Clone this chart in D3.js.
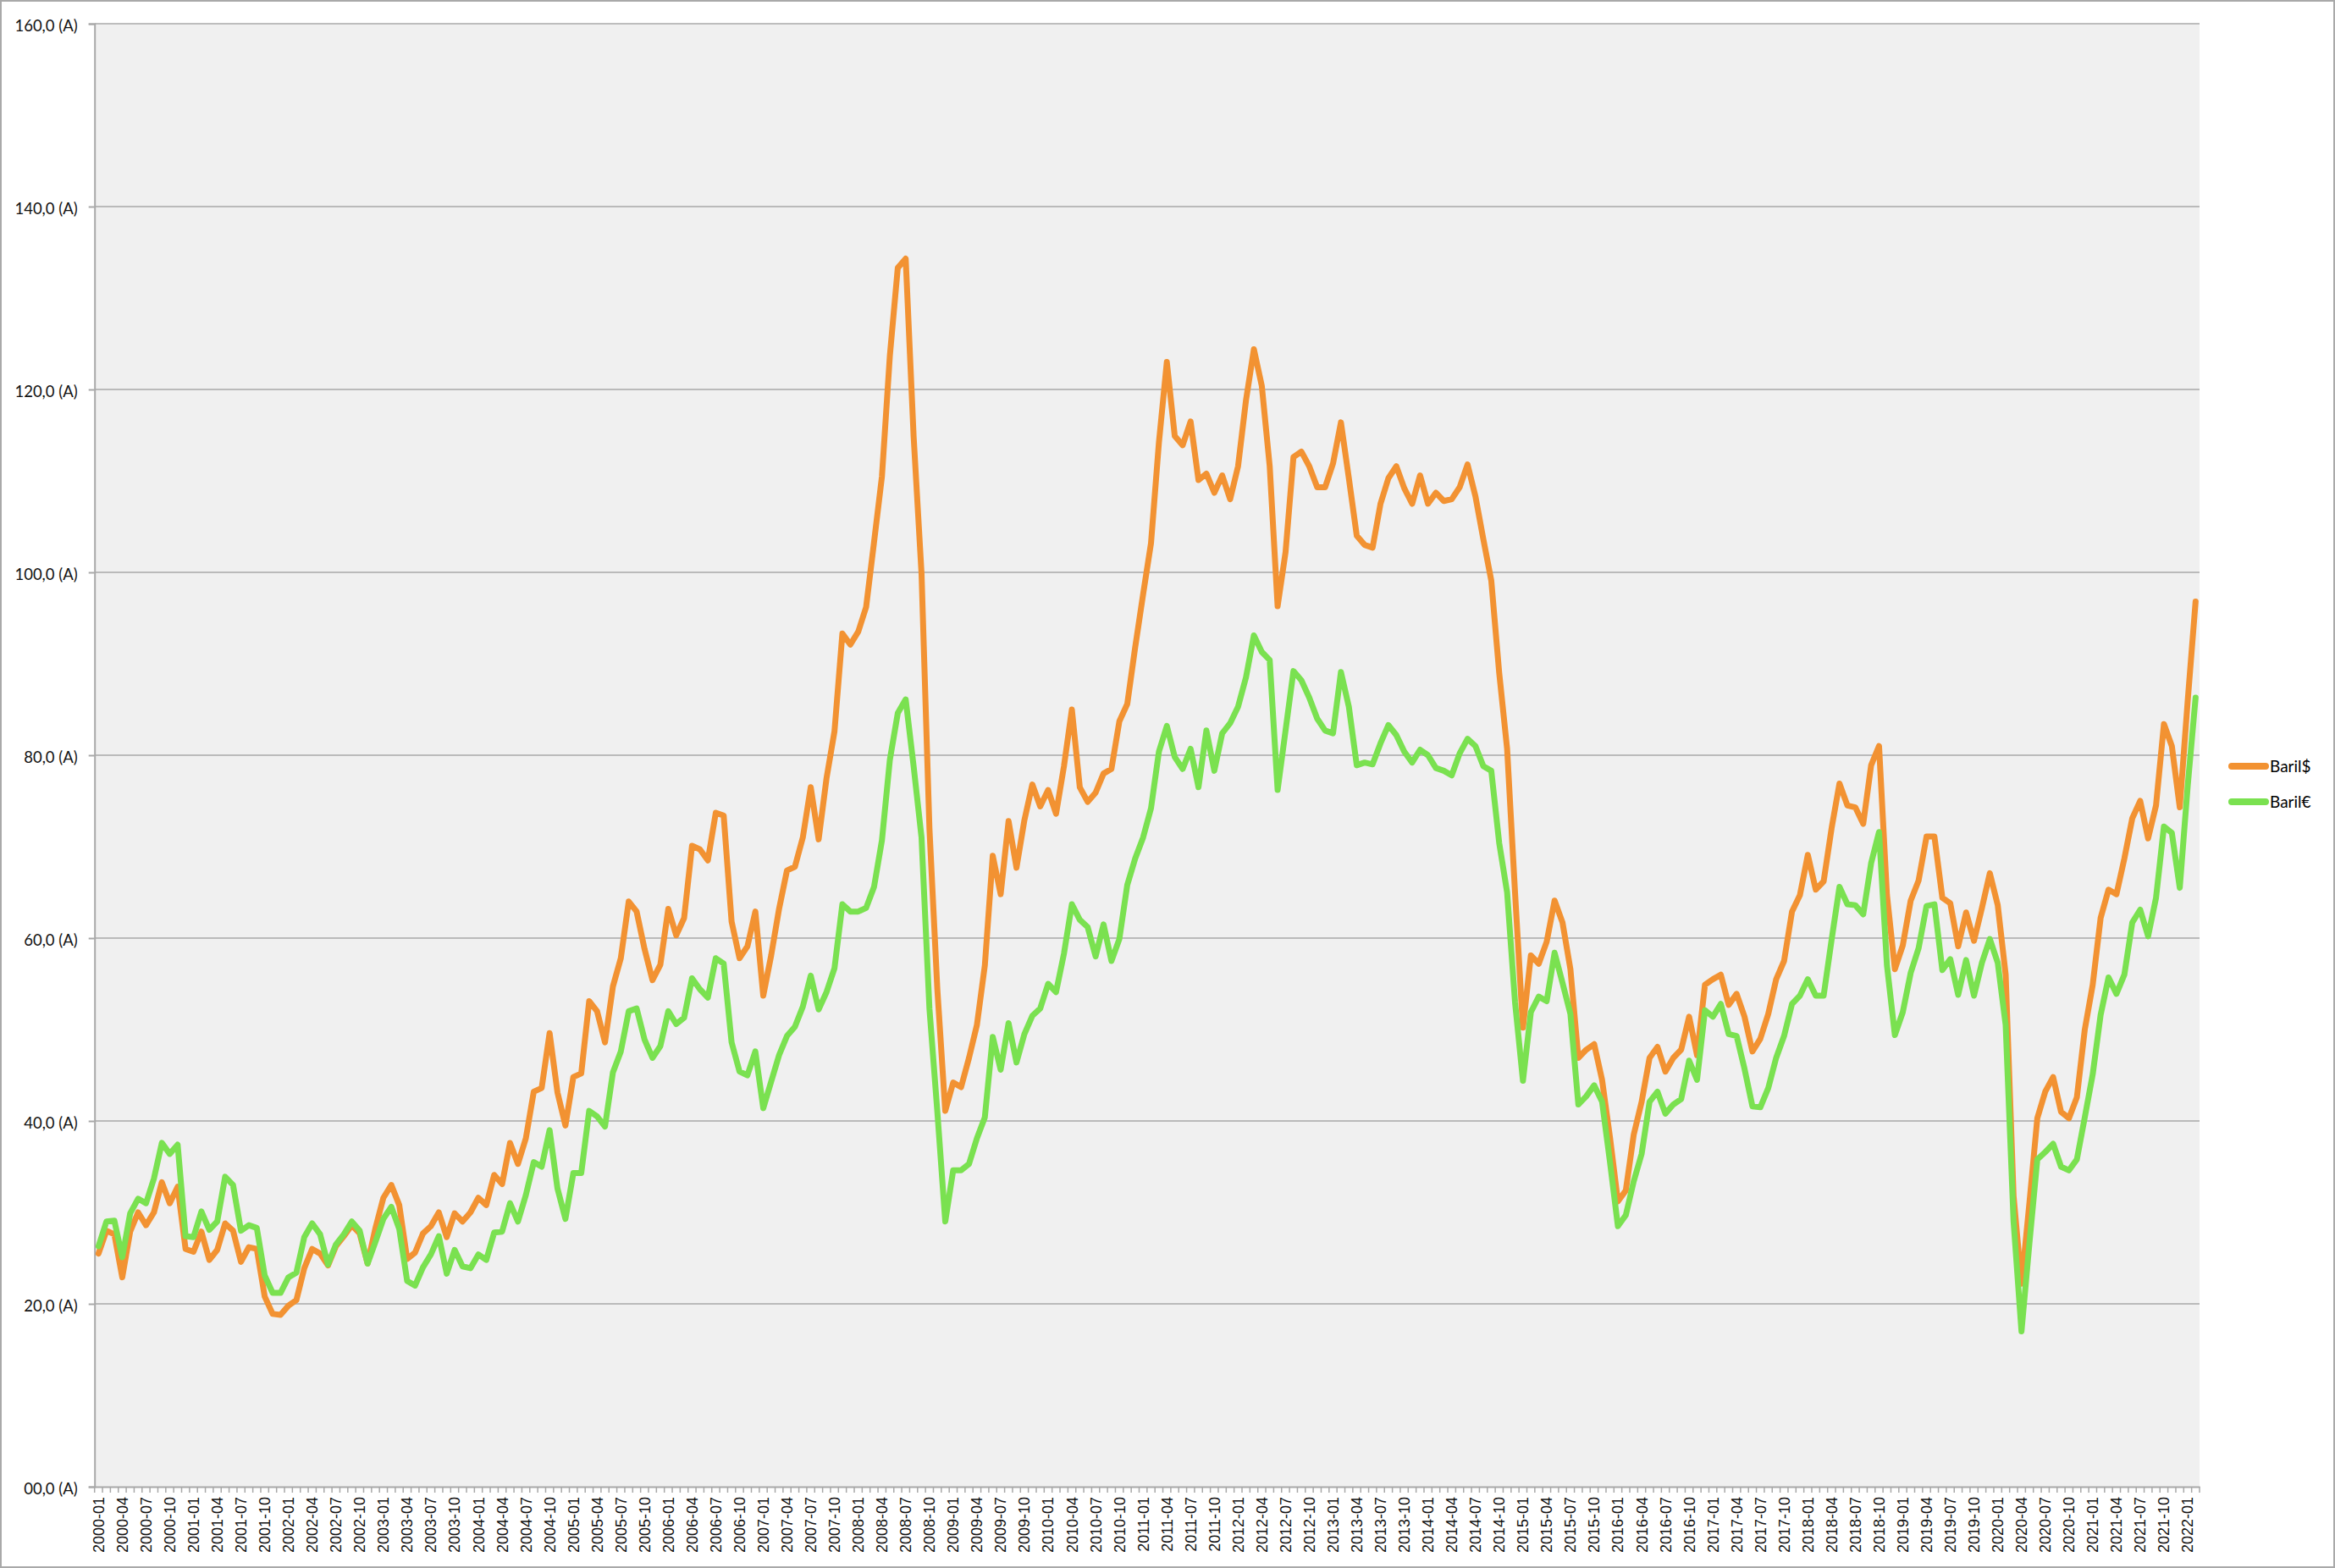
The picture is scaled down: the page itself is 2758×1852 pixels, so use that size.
<!DOCTYPE html>
<html>
<head>
<meta charset="utf-8">
<script src="https://cdn.jsdelivr.net/npm/d3@7"></script>
<style>
  html, body { margin: 0; padding: 0; background: #fff; }
  svg { display: block; }
</style>
</head>
<body>
<svg id="chart"></svg>
<script>
// monthly categories, 2000-01 .. 2022-02
var firstYear = 2000;
var monthCount = 266;
var months = [];
for (var k = 0; k < monthCount; k++) {
  var yy = firstYear + Math.floor(k / 12);
  var mm = (k % 12) + 1;
  months.push(yy + "-" + (mm < 10 ? "0" + mm : mm));
}

// Baril$ (orange)
var barilUsd = [
  25.5, 28.0, 27.6, 22.9, 27.9, 30.0, 28.6, 30.0, 33.3, 31.0, 32.8, 26.0,
  25.7, 27.9, 24.8, 25.9, 28.8, 28.0, 24.6, 26.2, 26.0, 20.8, 18.9, 18.8,
  19.8, 20.4, 23.9, 26.0, 25.5, 24.2, 26.3, 27.4, 28.6, 27.7, 24.4, 28.3,
  31.6, 33.0, 30.8, 24.9, 25.6, 27.7, 28.5, 30.0, 27.3, 29.9, 29.0, 30.0,
  31.6, 30.8, 34.1, 33.1, 37.6, 35.3, 38.1, 43.2, 43.6, 49.6, 43.1, 39.5,
  44.8, 45.2, 53.1, 52.0, 48.6, 54.7, 57.8, 64.0, 62.9, 58.8, 55.4, 57.1,
  63.2, 60.3, 62.2, 70.1, 69.7, 68.5, 73.7, 73.4, 61.8, 57.8, 59.1, 62.9,
  53.7, 58.1, 63.2, 67.4, 67.8, 71.0, 76.5, 70.8, 77.5, 82.6, 93.3, 92.1,
  93.5, 96.2, 103.3, 110.5, 123.7, 133.3, 134.3, 114.9, 99.9, 72.0, 54.4, 41.1,
  44.2, 43.7, 46.9, 50.5, 57.0, 69.0, 64.8, 72.8, 67.7, 72.9, 76.8, 74.4,
  76.2, 73.6, 78.8, 85.0, 76.5, 74.9, 75.9, 78.0, 78.5, 83.7, 85.6, 91.8,
  97.6, 103.2, 114.2, 123.0, 114.9, 113.9, 116.5, 110.1, 110.8, 108.7, 110.6, 108.0,
  111.6, 118.8, 124.4, 120.4, 111.6, 96.3, 102.2, 112.6, 113.2, 111.6, 109.3, 109.3,
  111.9, 116.4, 110.3, 104.0, 103.0, 102.7, 107.5, 110.3, 111.6, 109.2, 107.5, 110.6,
  107.5, 108.7, 107.8, 108.0, 109.3, 111.8, 108.3, 103.6, 99.1, 89.0, 80.7, 65.0,
  50.2, 58.1, 57.2, 59.6, 64.1, 61.7, 56.6, 46.9, 47.8, 48.4, 44.5, 38.2,
  31.2, 32.4, 38.5, 42.1, 46.9, 48.1, 45.4, 46.9, 47.8, 51.4, 47.2, 54.9,
  55.5, 56.0, 52.7, 53.9, 51.4, 47.6, 49.0, 51.7, 55.5, 57.5, 62.9, 64.7,
  69.1, 65.3, 66.2, 72.0, 76.9, 74.5, 74.3, 72.5, 78.9, 81.0, 64.7, 56.6,
  59.2, 64.1, 66.3, 71.1, 71.1, 64.4, 63.8, 59.1, 62.8, 59.7, 63.3, 67.1,
  63.6, 56.0, 31.8, 22.2, 31.0, 40.3, 43.2, 44.8, 41.0, 40.3, 42.6, 50.0,
  54.9, 62.2, 65.3, 64.8, 68.7, 73.1, 75.0, 70.9, 74.5, 83.4, 81.0, 74.3,
  85.9, 96.8
];

// Baril€ (green)
var barilEur = [
  26.3, 29.0, 29.1, 25.1, 29.9, 31.5, 31.0, 33.7, 37.6, 36.4, 37.4, 27.4,
  27.3, 30.1, 28.1, 29.0, 33.9, 33.0, 28.0, 28.6, 28.3, 23.1, 21.2, 21.2,
  22.9, 23.4, 27.3, 28.8, 27.6, 24.3, 26.5, 27.6, 29.0, 28.0, 24.4, 26.8,
  29.3, 30.6, 28.2, 22.5, 22.0, 24.0, 25.4, 27.4, 23.3, 25.9, 24.1, 23.9,
  25.4, 24.8, 27.8, 27.9, 31.0, 29.0, 31.9, 35.5, 35.0, 39.0, 32.6, 29.3,
  34.3, 34.3, 41.1, 40.5, 39.4, 45.3, 47.6, 52.0, 52.3, 48.9, 46.9, 48.2,
  52.0, 50.6, 51.3, 55.6, 54.4, 53.5, 57.8, 57.2, 48.6, 45.4, 45.0, 47.6,
  41.4, 44.3, 47.2, 49.3, 50.3, 52.5, 55.9, 52.2, 54.1, 56.7, 63.7, 62.9,
  62.9, 63.3, 65.6, 70.7, 79.5, 84.6, 86.1, 78.8, 71.0, 52.3, 41.0, 29.0,
  34.6, 34.6, 35.3, 38.1, 40.4, 49.2, 45.6, 50.7, 46.4, 49.5, 51.5, 52.3,
  55.0, 54.1, 58.3, 63.7, 62.0, 61.2, 58.0, 61.5, 57.5, 59.9, 65.8, 68.7,
  71.0, 74.2, 80.4, 83.2, 79.8, 78.5, 80.7, 76.5, 82.7, 78.3, 82.4, 83.5,
  85.3, 88.5, 93.1, 91.3, 90.4, 76.2, 82.7, 89.2, 88.2, 86.3, 84.0, 82.7,
  82.4, 89.1, 85.3, 78.9, 79.2, 79.0, 81.3, 83.3, 82.2, 80.4, 79.2, 80.6,
  80.0, 78.6, 78.3, 77.8, 80.2, 81.8, 81.0, 78.8, 78.3, 70.4, 65.0, 53.0,
  44.4, 51.9, 53.6, 53.1, 58.4, 55.1, 51.7, 41.8, 42.7, 43.9, 42.1, 35.5,
  28.5, 29.7, 33.4, 36.4, 42.1, 43.2, 40.8, 41.8, 42.4, 46.6, 44.5, 52.1,
  51.4, 52.8, 49.5, 49.3, 45.7, 41.6, 41.5, 43.6, 46.9, 49.3, 52.8, 53.7,
  55.5, 53.7, 53.7, 59.8, 65.6, 63.7, 63.6, 62.6, 68.2, 71.6, 57.0, 49.4,
  51.9, 56.2, 58.9, 63.5, 63.7, 56.5, 57.7, 53.8, 57.6, 53.7, 57.3, 59.9,
  57.3, 50.5, 29.0, 17.0, 26.6, 35.8, 36.6, 37.5, 35.0, 34.6, 35.8, 40.4,
  45.1, 51.6, 55.7, 53.9, 56.0, 61.7, 63.1, 60.2, 64.4, 72.2, 71.5, 65.5,
  76.6, 86.3
];

var seriesNames = ["Baril$", "Baril\u20ac"];
var seriesColors = ["#f29232", "#7ae150"];
var yTicks = [0, 20, 40, 60, 80, 100, 120, 140, 160];

var W = 2758, H = 1852;
var plot = { left: 111.7, right: 2598, top: 28, bottom: 1756 };

var svg = d3.select("#chart").attr("width", W).attr("height", H);

// outer frame
svg.append("rect")
  .attr("x", 1).attr("y", 1)
  .attr("width", W - 2).attr("height", H - 2)
  .attr("fill", "#fff")
  .attr("stroke", "#a9a9a9")
  .attr("stroke-width", 2);

var x = d3.scaleBand()
  .domain(months)
  .range([plot.left, plot.right])
  .padding(0);
var bw = x.bandwidth();

var y = d3.scaleLinear()
  .domain([0, 160])
  .range([plot.bottom, plot.top]);

svg.append("rect")
  .attr("x", plot.left).attr("y", plot.top)
  .attr("width", plot.right - plot.left)
  .attr("height", plot.bottom - plot.top)
  .attr("fill", "#f0f0f0");

// gridlines
svg.append("g")
  .selectAll("line")
  .data(yTicks.filter(function (d) { return d > 0; }))
  .join("line")
  .attr("x1", plot.left).attr("x2", plot.right)
  .attr("y1", function (d) { return y(d); })
  .attr("y2", function (d) { return y(d); })
  .attr("stroke", "#a8a8a8")
  .attr("stroke-width", 1.6);

function yFmt(v) {
  var s = String(Math.round(v));
  if (s.length < 2) s = "0" + s;
  return s + ",0 (A)";
}

var yAxis = svg.append("g")
  .attr("transform", "translate(" + plot.left + ",0)")
  .call(d3.axisLeft(y).tickValues(yTicks).tickSize(7).tickPadding(13).tickFormat(yFmt));
yAxis.select(".domain").attr("stroke", "#a8a8a8").attr("stroke-width", 2);
yAxis.selectAll(".tick line").attr("stroke", "#a8a8a8").attr("stroke-width", 2);
yAxis.selectAll(".tick text")
  .attr("fill", "#111")
  .style("font-family", "Lato, 'Open Sans', sans-serif")
  .style("font-size", "18.5px")
  .attr("dy", "0.45em");

// x axis: labels every 3rd month, small ticks at category boundaries
var labelMonths = months.filter(function (d, i) { return i % 3 === 0; });
var xAxis = svg.append("g")
  .attr("transform", "translate(0," + plot.bottom + ")")
  .call(d3.axisBottom(x).tickValues(labelMonths).tickSize(0));
xAxis.select(".domain").attr("stroke", "#a8a8a8").attr("stroke-width", 2);
xAxis.selectAll(".tick text")
  .attr("transform", "rotate(-90)")
  .attr("text-anchor", "end")
  .attr("x", -12)
  .attr("y", 0)
  .attr("dy", "0.36em")
  .attr("fill", "#111")
  .style("font-family", "'Liberation Sans', Arial, sans-serif")
  .style("font-size", "18px");

svg.append("g")
  .selectAll("line")
  .data(months.concat(["end"]))
  .join("line")
  .attr("x1", function (d) { return d === "end" ? plot.right : x(d); })
  .attr("x2", function (d) { return d === "end" ? plot.right : x(d); })
  .attr("y1", plot.bottom)
  .attr("y2", plot.bottom + 7)
  .attr("stroke", "#a8a8a8")
  .attr("stroke-width", 1.5);

// series lines
var series = [barilUsd, barilEur];
var line = d3.line()
  .x(function (d, i) { return x(months[i]) + bw / 2; })
  .y(function (d) { return y(d); });

svg.append("g")
  .selectAll("path")
  .data(series)
  .join("path")
  .attr("d", line)
  .attr("fill", "none")
  .attr("stroke", function (d, i) { return seriesColors[i]; })
  .attr("stroke-width", 7)
  .attr("stroke-linejoin", "round")
  .attr("stroke-linecap", "round");

// legend
var legend = svg.append("g")
  .selectAll("g")
  .data(seriesNames)
  .join("g")
  .attr("transform", function (d, i) { return "translate(2636," + (905 + i * 42) + ")"; });

legend.append("line")
  .attr("x1", 0).attr("x2", 40)
  .attr("stroke", function (d, i) { return seriesColors[i]; })
  .attr("stroke-width", 8)
  .attr("stroke-linecap", "round");

legend.append("text")
  .attr("x", 45)
  .attr("dy", "0.38em")
  .attr("fill", "#000")
  .style("font-family", "Lato, 'Open Sans', sans-serif")
  .style("font-size", "19px")
  .text(function (d) { return d; });
</script>
</body>
</html>
